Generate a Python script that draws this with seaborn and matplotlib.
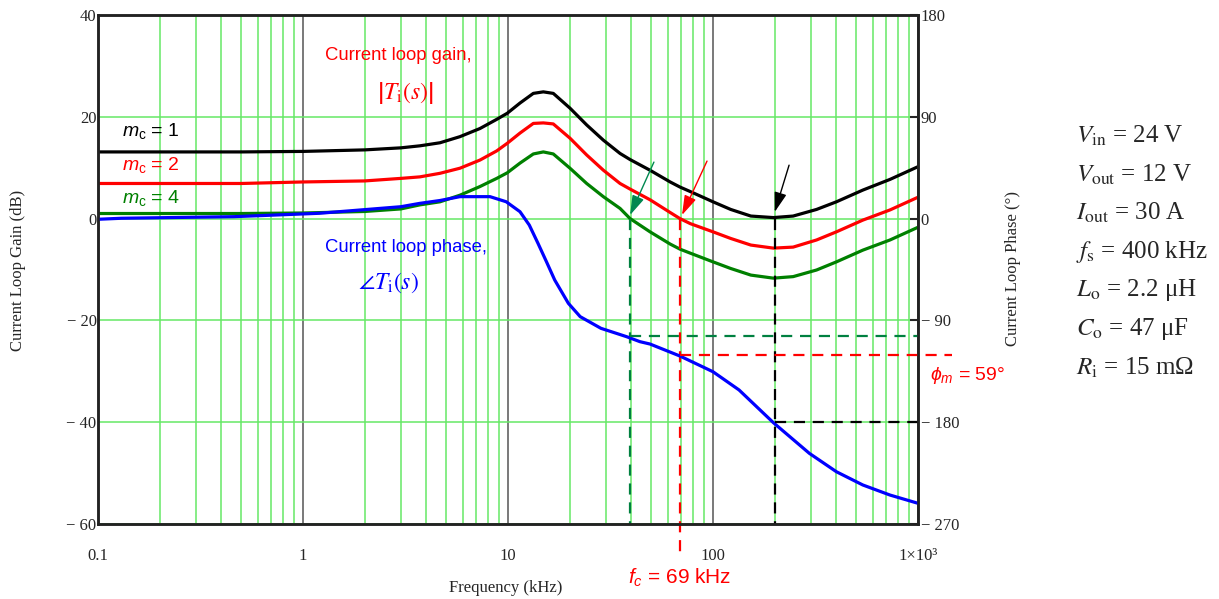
import matplotlib
matplotlib.use("Agg")
import matplotlib.pyplot as plt
from matplotlib.ticker import LogLocator, NullFormatter
import seaborn as sns
import pandas as pd

# ---- data (frequency in kHz) ----
gain_freq = [0.1, 0.5, 1, 2, 3, 3.72, 4.66, 5.83, 7.3, 8.81, 9.92, 11.44, 13.29, 14.87, 16.63,
             20.06, 24.2, 29.2, 35.2, 39.4, 49.3, 61.8, 69, 77.6, 100, 122, 153, 197, 246,
             320, 400, 538, 730, 1000]
gain_mc1 = [13.1, 13.1, 13.2, 13.5, 13.9, 14.3, 14.9, 16.1, 17.7, 19.5, 20.7, 22.7, 24.6, 24.9, 24.6,
            21.7, 18.4, 15.4, 12.8, 11.6, 9.5, 7.2, 6.2, 5.3, 3.3, 1.8, 0.5, 0.2, 0.5,
            1.8, 3.3, 5.6, 7.7, 10.2]
gain_mc2 = [6.9, 6.9, 7.2, 7.4, 7.9, 8.2, 8.9, 9.9, 11.5, 13.3, 14.8, 16.8, 18.7, 18.8, 18.6,
            15.8, 12.5, 9.5, 6.9, 5.8, 3.7, 1.2, 0.0, -1.0, -2.6, -3.9, -5.2, -5.8, -5.6,
            -4.2, -2.6, -0.3, 1.7, 4.2]
gain_mc4 = [1.0, 1.0, 1.1, 1.4, 1.9, 2.7, 3.3, 4.6, 6.3, 7.9, 9.0, 10.9, 12.7, 13.1, 12.7,
            9.9, 6.9, 4.3, 2.0, 0.0, -2.6, -5.0, -6.0, -6.8, -8.5, -9.8, -11.1, -11.7, -11.4,
            -10.1, -8.5, -6.2, -4.2, -1.7]
mc_labels = ["1", "2", "4"]
mc_colors = ["black", "#ff0000", "#008000"]

phase_freq = [0.1, 0.13, 0.46, 1.2, 3, 3.72, 4.66, 5.83, 8.17, 9.8, 11.44, 12.7, 14.0, 15.4,
              16.9, 19.7, 22.5, 28.4, 37.9, 44, 49.3, 69, 100, 134, 197, 295, 400, 538, 730, 1000]
phase_deg = [-0.6, 0.3, 1.7, 4.7, 10.5, 13.5, 16.0, 19.4, 19.4, 14.9, 6.1, -5.7, -21.8, -38.1,
             -54.3, -74.9, -86.7, -97.0, -104.4, -108.8, -110.9, -121.5, -135.4, -151.5, -180.4,
             -207.5, -223.8, -235.5, -244.4, -251.7]

# crossover markers: (frequency, phase at crossover)
cross_freq = [39.4, 69, 200]
cross_phase = [-103.8, -120.6, -180]
cross_colors = ["#008040", "#ff0000", "black"]

params = [r"$V_{\mathrm{in}}$ = 24 V", r"$V_{\mathrm{out}}$ = 12 V", r"$I_{\mathrm{out}}$ = 30 A",
          r"$f_{\mathrm{s}}$ = 400 kHz", r"$L_{\mathrm{o}}$ = 2.2 μH", r"$C_{\mathrm{o}}$ = 47 μF",
          r"$R_{\mathrm{i}}$ = 15 mΩ"]

gain_df = pd.DataFrame({
    "f": gain_freq * 3,
    "dB": gain_mc1 + gain_mc2 + gain_mc4,
    "mc": [m for m in mc_labels for _ in gain_freq],
})

sns.set_style("white")
plt.rcParams["font.family"] = ["Liberation Serif", "DejaVu Serif"]
plt.rcParams["mathtext.fontset"] = "custom"
plt.rcParams["mathtext.rm"] = "Liberation Sans"
plt.rcParams["mathtext.it"] = "Liberation Sans:italic"

W, H = 1219, 599
fig = plt.figure(figsize=(W / 100, H / 100), dpi=100)
x0, x1, y0, y1 = 98, 918, 15, 524
ax = fig.add_axes([x0 / W, 1 - y1 / H, (x1 - x0) / W, (y1 - y0) / H])
ax.set_xscale("log")
ax.set_xlim(0.1, 1000)
ax.set_ylim(-60, 40)

grid_green = "#66e866"
ax.xaxis.set_minor_locator(LogLocator(base=10, subs=range(2, 10)))
ax.xaxis.set_minor_formatter(NullFormatter())
ax.grid(which="minor", axis="x", color=grid_green, lw=1.1, zorder=0)
ax.grid(which="major", axis="x", color="#555555", lw=1.1, zorder=0)
ax.grid(which="major", axis="y", color=grid_green, lw=1.1, zorder=0)
ax.set_axisbelow(True)

sns.lineplot(data=gain_df, x="f", y="dB", hue="mc", palette=dict(zip(mc_labels, mc_colors)),
             estimator=None, lw=2.3, legend=False, ax=ax)

ax2 = ax.twinx()
ax2.set_ylim(-270, 180)
sns.lineplot(x=phase_freq, y=phase_deg, color="#0000ff", lw=2.3, estimator=None, ax=ax2)
ax2.grid(False)

# dashed crossover / phase-margin guides
dash = (5, 3.5)
for f, p, c in zip(cross_freq, cross_phase, cross_colors):
    bottom = -66.5 if c == "#ff0000" else -60
    ax.plot([f, f], [0, bottom], color=c, lw=1.6, dashes=dash, clip_on=False)
    xend = 1470 if c == "#ff0000" else 1000
    ax2.plot([f, xend], [p, p], color=c, lw=1.6, dashes=dash, clip_on=False)

# arrows pointing at the crossover points
arrow_tails = [(51.5, 11.1), (93.5, 11.3), (235, 10.5)]
arrow_heads = [(39.4, 0.7), (70.6, 0.7), (200, 1.3)]
for (tx, ty), (hx, hy), c in zip(arrow_tails, arrow_heads, ["#008850", "#ff0000", "black"]):
    ax.annotate("", xy=(hx, hy), xytext=(tx, ty),
                arrowprops=dict(arrowstyle="-|>,head_length=0.8,head_width=0.25", color=c, lw=1.0,
                                mutation_scale=15, shrinkA=0, shrinkB=0))

# ticks
ax.set_xticks([0.1, 1, 10, 100, 1000])
ax.set_xticklabels(["0.1", "1", "10", "100", "1×10³"], fontsize=12)
ax.set_yticks([-60, -40, -20, 0, 20, 40])
ax.set_yticklabels(["\u2212 60", "\u2212 40", "\u2212 20", "0", "20", "40"], fontsize=12)
ax.tick_params(axis="x", which="both", length=0, pad=17)
ax.tick_params(axis="y", length=0, pad=1)
ax2.set_yticks([-270, -180, -90, 0, 90, 180])
ax2.set_yticklabels(["\u2212 270", "\u2212 180", "\u2212 90", "0", "90", "180"], fontsize=12)
ax2.tick_params(axis="y", direction="in", length=6, width=1.5, pad=2)
ax.set_xlabel("")
ax.set_ylabel("")
ax2.set_ylabel("")
for a in (ax, ax2):
    for s in a.spines.values():
        s.set_color("#222222")
        s.set_linewidth(1.8)

# axis titles
fig.text(506 / W, 1 - 588 / H, "Frequency (kHz)", ha="center", va="center", fontsize=12)
fig.text(18 / W, 1 - 270 / H, "Current Loop Gain (dB)", rotation=90, ha="center", va="center", fontsize=12)
fig.text(1013 / W, 1 - 269 / H, "Current Loop Phase (°)", rotation=90, ha="center", va="center", fontsize=12)

# annotations
sans = ["Liberation Sans", "DejaVu Sans"]
for lab, c, yp in zip(mc_labels, mc_colors, [131, 165, 198]):
    fig.text(122 / W, 1 - yp / H, r"$m_{\mathrm{c}}$ = " + lab, color=c, family=sans,
             fontsize=14, ha="left", va="center")
fig.text(325 / W, 1 - 55 / H, "Current loop gain,", color="#ff0000", family=sans, fontsize=13.3,
         ha="left", va="center")
fig.text(405 / W, 1 - 93 / H, r"$\left|T_{\mathrm{i}}\left(s\right)\right|$", color="#ff0000",
         fontsize=17, ha="center", va="center", math_fontfamily="stix")
fig.text(325 / W, 1 - 248 / H, "Current loop phase,", color="#0000ff", family=sans, fontsize=13.3,
         ha="left", va="center")
fig.text(388 / W, 1 - 283 / H, r"$\angle T_{\mathrm{i}}\left(s\right)$", color="#0000ff",
         fontsize=17, ha="center", va="center", math_fontfamily="stix")
fig.text(628 / W, 1 - 578 / H, r"$f_c$ = 69 kHz", color="#ff0000", family=sans, fontsize=15,
         ha="left", va="center")
fig.text(930 / W, 1 - 375 / H, r"$\phi_m$ = 59°", color="#ff0000", family=sans, fontsize=14,
         ha="left", va="center")

for i, txt in enumerate(params):
    fig.text(1076 / W, 1 - (136 + 38.6 * i) / H, txt, fontsize=18, ha="left", va="center",
             family=["Liberation Serif", "DejaVu Serif"], math_fontfamily="stix")

fig.savefig("out.png", dpi=100)
